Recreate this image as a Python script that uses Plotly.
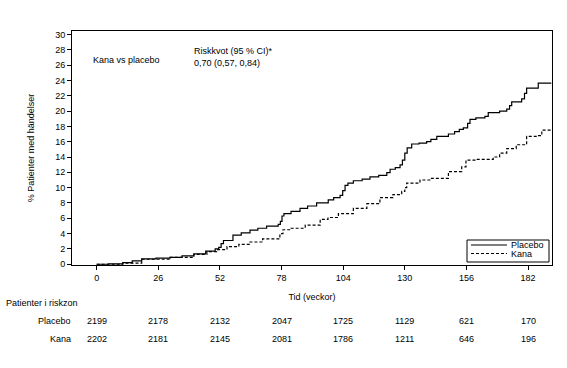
import plotly.graph_objects as go

# ---- data ----
placebo_weeks = [0, 5, 11, 15, 19, 25, 31, 36, 41, 46, 50, 51.5, 52.5, 53.5, 57.5, 61, 64.7, 68,
                 71.7, 76.6, 77.5, 78.2, 79, 82, 85.8, 89, 92.8, 97.7, 100, 102.7, 103.8, 104.8,
                 106, 108.3, 112, 115.3, 119, 122.4, 123.8, 126, 128, 129, 130, 131, 132.9, 136,
                 139.2, 141, 143.5, 148.4, 151, 153, 154.7, 156.5, 157.5, 160, 163.8, 165.2, 170,
                 173, 174.2, 175.1, 179.3, 180.5, 181.4, 186.3, 191.8]
placebo_pct = [0, 0.05, 0.2, 0.45, 0.7, 0.8, 0.9, 1.1, 1.35, 1.7, 2.0, 2.2, 2.7, 3.1, 3.8, 4.1, 4.45,
               4.7, 4.97, 5.2, 5.6, 6.3, 6.6, 6.9, 7.3, 7.6, 8.0, 8.4, 8.7, 9.0, 9.6, 10.3, 10.6,
               10.9, 11.1, 11.4, 11.6, 11.95, 12.4, 12.6, 12.96, 13.6, 14.5, 15.2, 15.7, 15.8,
               16.0, 16.3, 16.7, 17.0, 17.3, 17.6, 17.8, 18.4, 18.9, 19.1, 19.3, 19.8, 20.0,
               20.25, 20.7, 21.2, 21.6, 22.3, 23.0, 23.65, 23.65]

kana_weeks = [0, 11, 19, 31, 41, 46.5, 50.6, 55, 60, 64.7, 70, 77.3, 78.6, 82, 88, 94.3, 97.6,
              102, 108.3, 114, 119.5, 125, 128.7, 130, 130.8, 136.4, 141, 148.4, 154, 155.8, 160,
              167.3, 170, 173, 177, 181.4, 186, 187.8, 191.8]
kana_pct = [0, 0.15, 0.65, 0.9, 1.3, 1.65, 1.9, 2.3, 2.6, 2.9, 3.3, 4.0, 4.5, 4.7, 5.1, 5.85, 6.1,
            6.6, 7.3, 7.9, 8.7, 9.1, 9.5, 10.0, 10.6, 11.0, 11.2, 12.1, 12.7, 13.6, 13.7, 14.0,
            14.5, 15.1, 15.6, 16.7, 16.8, 17.5, 17.5]

tick_weeks = [0, 26, 52, 78, 104, 130, 156, 182]
risk_placebo = [2199, 2178, 2132, 2047, 1725, 1129, 621, 170]
risk_kana = [2202, 2181, 2145, 2081, 1786, 1211, 646, 196]
series_names = ["Placebo", "Kana"]

# ---- layout geometry (page pixels; body margin removed by post_script) ----
W, H = 567, 368
L, R, T, B = 72, 552, 31, 265          # plot area in page pixels
FONT = "Liberation Sans, Arial, sans-serif"


def px(x):
    return (x - L) / (R - L)


def py(y):
    return (B - y) / (B - T)


fig = go.Figure()
fig.add_trace(go.Scatter(x=placebo_weeks, y=placebo_pct, mode="lines", name=series_names[0],
                         line=dict(color="black", width=1.2, shape="hv")))
fig.add_trace(go.Scatter(x=kana_weeks, y=kana_pct, mode="lines", name=series_names[1],
                         line=dict(color="black", width=1.2, shape="hv", dash="3px,2px")))

ann = []
txt = dict(family=FONT, size=9, color="black")
ann.append(dict(x=px(91), y=py(60), xref="paper", yref="paper", text="Kana vs placebo",
                showarrow=False, xanchor="left", yanchor="middle", font=txt))
ann.append(dict(x=px(192), y=py(57), xref="paper", yref="paper",
                text="Riskkvot (95 % CI)*<br>0,70 (0,57, 0,84)", align="left",
                showarrow=False, xanchor="left", yanchor="middle", font=txt))
# risk table
ann.append(dict(x=px(4), y=py(303), xref="paper", yref="paper", text="Patienter i riskzon",
                showarrow=False, xanchor="left", yanchor="middle", font=txt))
for name, vals, yy in [(series_names[0], risk_placebo, 321), (series_names[1], risk_kana, 339)]:
    ann.append(dict(x=px(73), y=py(yy), xref="paper", yref="paper", text=name,
                    showarrow=False, xanchor="right", yanchor="middle", font=txt))
    for w, v in zip(tick_weeks, vals):
        ann.append(dict(x=w, y=py(yy), xref="x", yref="paper", text=str(v),
                        showarrow=False, xanchor="center", yanchor="middle", font=txt))

# compact legend box
shapes = [dict(type="rect", xref="paper", yref="paper", x0=px(467), x1=px(549),
               y0=py(262), y1=py(240), line=dict(color="black", width=1), fillcolor="white")]
for name, yy, dash in [(series_names[0], 245, "solid"), (series_names[1], 253.5, "3px,2px")]:
    shapes.append(dict(type="line", xref="paper", yref="paper", x0=px(471), x1=px(507),
                       y0=py(yy), y1=py(yy), line=dict(color="black", width=1.2, dash=dash)))
    ann.append(dict(x=px(509), y=py(yy), xref="paper", yref="paper", text=name,
                    showarrow=False, xanchor="left", yanchor="middle", font=txt))

axis_common = dict(showline=True, linecolor="black", linewidth=1, mirror=True, ticks="outside",
                   ticklen=4, tickcolor="black", tickwidth=1, showgrid=False, zeroline=False,
                   tickfont=dict(family=FONT, size=9, color="black"))

fig.update_layout(
    width=W, height=H,
    margin=dict(l=L, r=W - R, t=T, b=H - B, pad=0),
    paper_bgcolor="white", plot_bgcolor="white",
    showlegend=False,
    font=dict(family=FONT, size=9, color="black"),
    xaxis=dict(range=[-10.4, 192.1], tickvals=tick_weeks,
               title=dict(text="Tid (veckor)", font=dict(family=FONT, size=9, color="black"),
                          standoff=11),
               **axis_common),
    yaxis=dict(range=[-0.1, 30.45], dtick=2, tick0=0,
               title=dict(text="% Patienter med händelser",
                          font=dict(family=FONT, size=9, color="black"), standoff=19),
               **axis_common),
    annotations=ann,
    shapes=shapes,
)

fig.write_html("out.html",
               config={"displayModeBar": False},
               post_script="document.body.style.margin='0';document.body.style.overflow='hidden';")
